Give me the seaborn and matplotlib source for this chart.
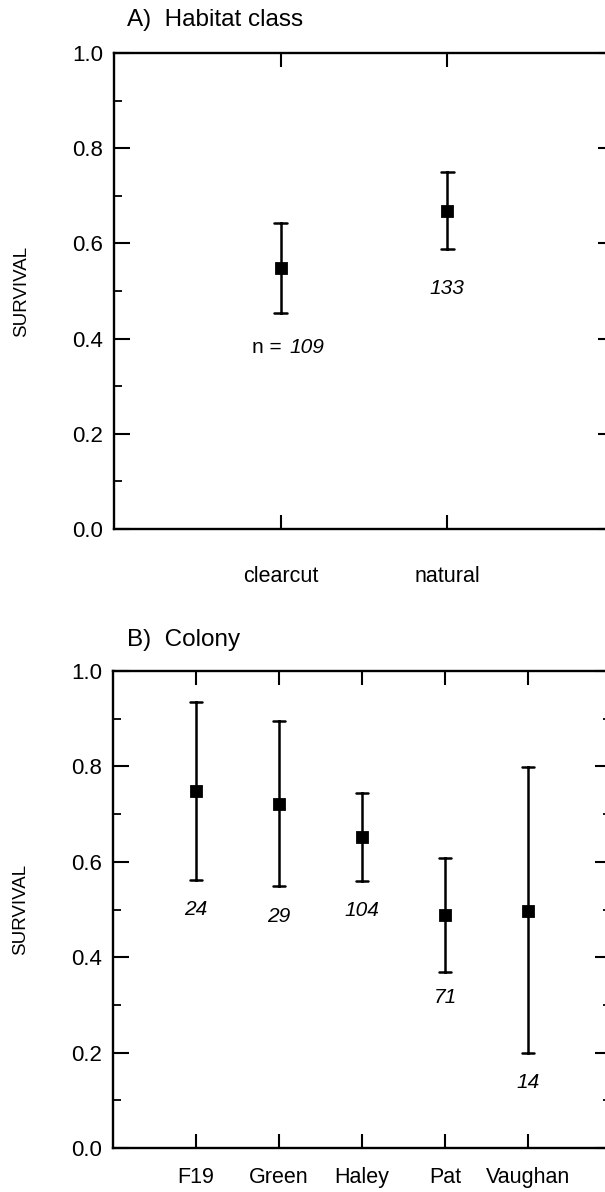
import matplotlib
matplotlib.use("Agg")
import matplotlib.pyplot as plt
import seaborn as sns
import pandas as pd
from matplotlib.ticker import MultipleLocator, FormatStrFormatter

# survival estimates (mean, lower / upper limits, sample size)
habitat = ["clearcut", "natural"]
habitat_mean = [0.549, 0.668]
habitat_lo = [0.454, 0.588]
habitat_hi = [0.643, 0.749]
habitat_n = ["109", "133"]

colony = ["F19", "Green", "Haley", "Pat", "Vaughan"]
colony_mean = [0.748, 0.722, 0.651, 0.488, 0.497]
colony_lo = [0.561, 0.549, 0.559, 0.370, 0.199]
colony_hi = [0.935, 0.895, 0.745, 0.609, 0.799]
colony_n = ["24", "29", "104", "71", "14"]

sns.set_style("ticks")
plt.rcParams['font.family'] = ['Liberation Sans', 'DejaVu Sans']
for k in ['text.color', 'axes.labelcolor', 'xtick.color', 'ytick.color', 'axes.edgecolor']:
    plt.rcParams[k] = 'black'


def long_table(cats, lo, mean, hi):
    # three rows per group -> median gives the estimate, min/max give the limits
    rows = []
    for c, a, m, b in zip(cats, lo, mean, hi):
        rows += [(c, a), (c, m), (c, b)]
    return pd.DataFrame(rows, columns=["group", "survival"])


def panel(ax, cats, lo, mean, hi, capsize, lab_pad, title_y, title):
    df = long_table(cats, lo, mean, hi)
    sns.pointplot(data=df, x="group", y="survival", order=cats,
                  estimator="median", errorbar=lambda v: (v.min(), v.max()),
                  color="black", markers="s", linestyle="none",
                  markersize=7.5, capsize=capsize,
                  err_kws={"linewidth": 1.8}, ax=ax)
    ax.set_xlim(-1, len(cats))
    ax.set_ylim(0, 1)
    ax.yaxis.set_major_locator(MultipleLocator(0.2))
    ax.yaxis.set_minor_locator(MultipleLocator(0.1))
    ax.yaxis.set_major_formatter(FormatStrFormatter('%.1f'))
    ax.tick_params(axis='x', which='major', direction='in', top=True, bottom=True,
                   length=10, width=1.5, labelsize=15.5, pad=lab_pad)
    ax.tick_params(axis='y', which='major', direction='in', left=True, right=True,
                   length=11.5, width=1.5, labelsize=16, pad=8)
    ax.tick_params(axis='y', which='minor', direction='in', left=True, right=True,
                   length=6, width=1.3)
    for s in ax.spines.values():
        s.set_visible(True)
        s.set_linewidth(1.7)
    ax.set_xlabel("")
    ax.set_ylabel("SURVIVAL", fontsize=13.5)
    ax.yaxis.set_label_coords(-0.168, 0.5)
    fig.text(127 / 605, title_y, title, fontsize=17.5, ha='left', va='center')


def n_labels(ax, lo, ns, offs):
    for i, (l, n, o) in enumerate(zip(lo, ns, offs)):
        ax.annotate(n, (i, l), xytext=(0, -o), textcoords='offset points',
                    ha='center', va='center', fontstyle='italic', fontsize=15)


fig = plt.figure(figsize=(6.05, 11.92), dpi=100)
ax1 = fig.add_axes([114 / 605, 1 - 529 / 1192, 500 / 605, 476 / 1192])
ax2 = fig.add_axes([113 / 605, 1 - 1148 / 1192, 498 / 605, 477 / 1192])

panel(ax1, habitat, habitat_lo, habitat_mean, habitat_hi, 0.08, 27,
      1 - 20 / 1192, "A)  Habitat class")
# first habitat label reads "n = 109" with the count in italics
ax1.annotate("n =", (0, habitat_lo[0]), xytext=(1, -25), textcoords='offset points',
             ha='right', va='center', fontsize=15)
ax1.annotate(habitat_n[0], (0, habitat_lo[0]), xytext=(6, -25), textcoords='offset points',
             ha='left', va='center', fontstyle='italic', fontsize=15)
n_labels(ax1, habitat_lo[1:], habitat_n[1:], [28])
ax1.texts[-1].xy = (1, habitat_lo[1])

panel(ax2, colony, colony_lo, colony_mean, colony_hi, 0.15, 14,
      1 - 640 / 1192, "B)  Colony")
n_labels(ax2, colony_lo, colony_n, [21, 22, 21, 19, 21])

fig.savefig("out.png", dpi=100)
